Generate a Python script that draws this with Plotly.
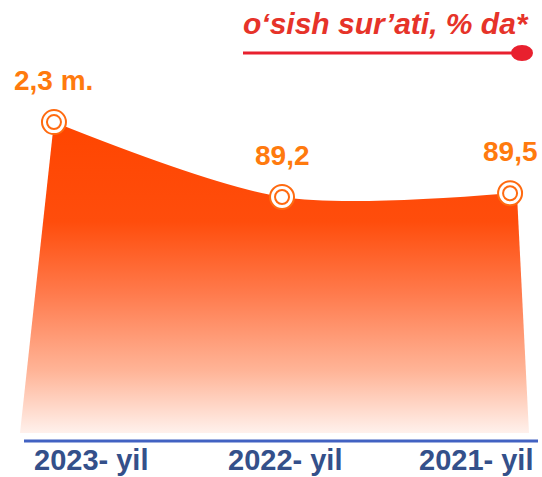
import plotly.graph_objects as go

# ---------------- data ----------------
years = ["2023- yil", "2022- yil", "2021- yil"]
plot_heights = [117.5, 89.2, 90.6]          # visual heights of the curve
value_labels = ["2,3 m.", "89,2", "89,5"]
title_text = "o‘sish sur’ati, % da*"

# ---------------- layout constants ----------------
W, H = 542, 477
L, R, T, B = 20, 13, 0, 44
PW, PH = W - L - R, H - T - B
x_idx = list(range(len(years)))
x_lo, x_hi = -0.149, 2.083
y_hi = PH / 2.646

def px_x(p):
    return (p - L) / PW

def px_y(p):
    return (T + PH - p) / PH

orange_line = "#FF6A10"
label_color = "#FF7A0E"
red = "#E8202E"
blue_line = "#4262C2"
tick_color = "#34508A"

grad = dict(type="vertical", start=0, stop=plot_heights[0],
            colorscale=[[0.0, "#FFF1EC"], [0.2, "#FFB497"], [0.45, "#FF7A4C"],
                        [0.68, "#FF4D0C"], [1.0, "#FF4500"]])

fig = go.Figure()

# main spline area
fig.add_trace(go.Scatter(
    x=x_idx, y=plot_heights, mode="lines", line=dict(shape="spline", smoothing=0.85, width=0, color="#FF4500"),
    fill="tozeroy", fillgradient=grad, hoverinfo="skip", showlegend=False))

# slanted left edge
fig.add_trace(go.Scatter(
    x=[x_lo, x_idx[0], x_idx[0] + 0.05, x_lo], y=[0, plot_heights[0], 0, 0],
    mode="lines", line=dict(width=0), fill="toself", fillgradient=grad,
    hoverinfo="skip", showlegend=False))

# slanted right edge
fig.add_trace(go.Scatter(
    x=[x_idx[-1] - 0.05, x_idx[-1], x_idx[-1] + 0.03, x_hi, x_idx[-1] - 0.05],
    y=[0, plot_heights[-1], plot_heights[-1], 0, 0],
    mode="lines", line=dict(width=0), fill="toself", fillgradient=grad,
    hoverinfo="skip", showlegend=False))

# double-circle markers
fig.add_trace(go.Scatter(
    x=x_idx, y=plot_heights, mode="markers",
    marker=dict(size=24, color="white", line=dict(color=orange_line, width=2)),
    hoverinfo="skip", showlegend=False))
fig.add_trace(go.Scatter(
    x=x_idx, y=plot_heights, mode="markers",
    marker=dict(size=14, color="white", line=dict(color=orange_line, width=2)),
    hoverinfo="skip", showlegend=False))

annotations = []
for xi, yv, lab in zip(x_idx, plot_heights, value_labels):
    annotations.append(dict(
        x=xi, y=yv, xref="x", yref="y", text=lab, showarrow=False,
        yanchor="bottom", xanchor="center", yshift=24,
        font=dict(family="Liberation Sans, Arial, sans-serif", size=28, color=label_color, weight="bold")))

tick_centers = [91, 285, 476]
for yr, cx in zip(years, tick_centers):
    annotations.append(dict(
        x=px_x(cx), y=px_y(460), xref="paper", yref="paper", text=f"<b>{yr}</b>",
        showarrow=False, xanchor="center", yanchor="middle",
        font=dict(family="Liberation Sans, Arial, sans-serif", size=29, color=tick_color)))

annotations.append(dict(
    x=px_x(531), y=px_y(24), xref="paper", yref="paper",
    text=f"<b><i>{title_text}</i></b>", showarrow=False,
    xanchor="right", yanchor="middle",
    font=dict(family="Liberation Sans, Arial, sans-serif", size=30, color="#E63329")))

shapes = [
    dict(type="line", xref="paper", yref="paper", x0=px_x(24), x1=px_x(538),
         y0=px_y(441), y1=px_y(441), line=dict(color=blue_line, width=3)),
    dict(type="line", xref="paper", yref="paper", x0=px_x(243), x1=px_x(515),
         y0=px_y(53), y1=px_y(53), line=dict(color=red, width=3)),
    dict(type="circle", xref="paper", yref="paper", x0=px_x(511), x1=px_x(533),
         y0=px_y(61), y1=px_y(45), fillcolor=red, line=dict(width=0)),
]

fig.update_layout(
    width=W, height=H, margin=dict(l=L, r=R, t=T, b=B),
    paper_bgcolor="white", plot_bgcolor="white",
    xaxis=dict(range=[x_lo, x_hi], visible=False, fixedrange=True),
    yaxis=dict(range=[0, y_hi], visible=False, fixedrange=True),
    annotations=annotations, shapes=shapes, showlegend=False)

fig.write_html("out.html", config={"displayModeBar": False},
               post_script="document.body.style.margin='0';document.body.style.overflow='hidden';")
